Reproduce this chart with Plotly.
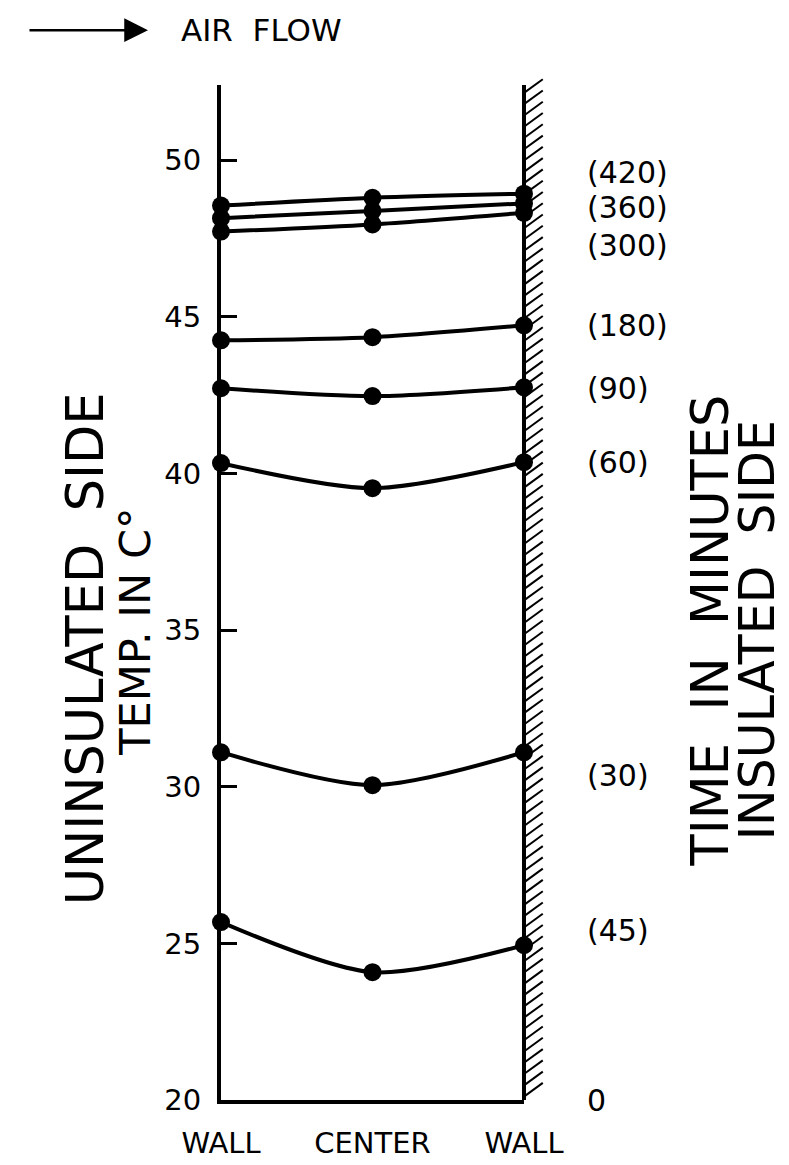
import plotly.graph_objects as go

# ---- data ----
positions = ["WALL", "CENTER", "WALL"]
x_index = [0, 1, 2]
time_labels = ["(420)", "(360)", "(300)", "(180)", "(90)", "(60)", "(30)", "(45)"]
wall_left = [48.55, 48.15, 47.72, 44.25, 42.72, 40.33, 31.10, 25.68]
center = [48.80, 48.38, 47.95, 44.35, 42.47, 39.53, 30.05, 24.08]
wall_right = [48.93, 48.62, 48.32, 44.73, 42.75, 40.36, 31.10, 24.94]
y_ticks = [20, 25, 30, 35, 40, 45, 50]
bottom_time_label = "0"

# label placement (layout only)
label_y = [49.62, 48.50, 47.29, 44.73, 42.72, 40.36, 30.37, 25.42]

FONT = "DejaVu Sans"
fig = go.Figure()

for i, name in enumerate(time_labels):
    fig.add_trace(go.Scatter(
        x=x_index,
        y=[wall_left[i], center[i], wall_right[i]],
        mode="lines+markers",
        line=dict(color="black", width=4, shape="spline", smoothing=0.8),
        marker=dict(color="black", size=18),
        cliponaxis=False,
        name=name,
        showlegend=False,
    ))

annotations = []
for name, ly in zip(time_labels, label_y):
    annotations.append(dict(
        x=1.2, xref="paper", y=ly, yref="y", text=name, showarrow=False,
        xanchor="left", yanchor="middle", font=dict(family=FONT, size=30, color="black")))
annotations.append(dict(
    x=1.2, xref="paper", y=20, yref="y", text=bottom_time_label, showarrow=False,
    xanchor="left", yanchor="middle", font=dict(family=FONT, size=30, color="black")))

# axis titles
annotations += [
    dict(x=-0.449, xref="paper", y=0.445, yref="paper", text="UNINSULATED  SIDE",
         textangle=-90, showarrow=False, xanchor="center", yanchor="middle",
         font=dict(family=FONT, size=51, color="black")),
    dict(x=-0.285, xref="paper", y=0.461, yref="paper", text="TEMP. IN C°",
         textangle=-90, showarrow=False, xanchor="center", yanchor="middle",
         font=dict(family=FONT, size=43, color="black")),
    dict(x=1.615, xref="paper", y=0.463, yref="paper", text="TIME  IN  MINUTES",
         textangle=-90, showarrow=False, xanchor="center", yanchor="middle",
         font=dict(family=FONT, size=51, color="black")),
    dict(x=1.77, xref="paper", y=0.463, yref="paper", text="INSULATED  SIDE",
         textangle=-90, showarrow=False, xanchor="center", yanchor="middle",
         font=dict(family=FONT, size=49, color="black")),
    # air flow arrow and caption
    dict(x=-0.241, xref="paper", y=1.054, yref="paper", ax=-120, ay=0,
         axref="pixel", ayref="pixel", text="", showarrow=True,
         arrowhead=2, arrowsize=1.9, arrowwidth=2.5, arrowcolor="black"),
    dict(x=-0.137, xref="paper", y=1.054, yref="paper", text="AIR  FLOW",
         showarrow=False, xanchor="left", yanchor="middle",
         font=dict(family=FONT, size=31, color="black")),
]

# hatching on the insulated wall (decoration)
shapes = []
n_hatch = 90
for k in range(n_hatch):
    y0 = (k + 0.3) / n_hatch
    shapes.append(dict(type="line", xref="paper", yref="paper",
                       x0=1.0, y0=y0, x1=1.062, y1=y0 + 0.0135,
                       line=dict(color="black", width=2)))
# right wall line
shapes.append(dict(type="line", xref="paper", yref="paper", x0=1, x1=1, y0=0, y1=1,
                   line=dict(color="black", width=4)))

fig.update_layout(
    width=789, height=1165,
    margin=dict(l=213, r=273, t=77, b=73),
    paper_bgcolor="white", plot_bgcolor="white",
    xaxis=dict(range=[0, 2], tickvals=x_index, ticktext=positions, automargin=False,
               showgrid=False, zeroline=False, showline=True, linecolor="black",
               linewidth=4, ticks="", ticklabelstandoff=14,
               tickfont=dict(family=FONT, size=29, color="black")),
    yaxis=dict(range=[20, 52.4], tickvals=y_ticks, ticktext=[str(v) for v in y_ticks],
               automargin=False,
               showgrid=False, zeroline=False, showline=True, linecolor="black",
               linewidth=4, ticks="inside", ticklen=16, tickwidth=2.5, tickcolor="black",
               ticklabelstandoff=10,
               tickfont=dict(family=FONT, size=29, color="black")),
    annotations=annotations,
    shapes=shapes,
)

fig.write_html("out.html")
